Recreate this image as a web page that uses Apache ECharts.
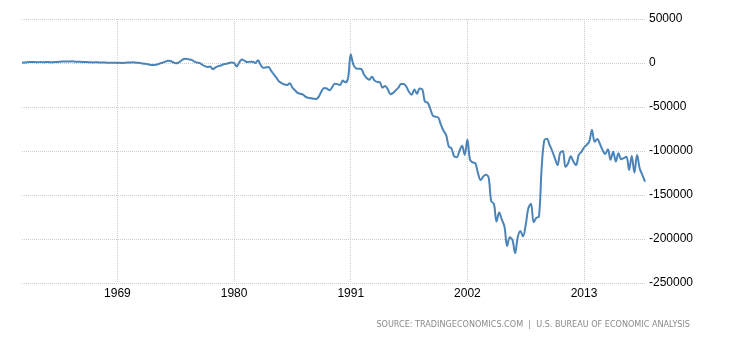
<!DOCTYPE html>
<html>
<head>
<meta charset="utf-8">
<script src="https://cdn.jsdelivr.net/npm/echarts@6/dist/echarts.min.js"></script>
<style>html,body{margin:0;padding:0;background:#fff;}#c{width:730px;height:340px;}</style>
</head>
<body>
<div id="c"></div>
<script>
var startYear = 1960;
var endYear = 2018;
var labelYears = [1969, 1980, 1991, 2002, 2013];
var yTicks = [50000, 0, -50000, -100000, -150000, -200000, -250000];
var sourceText = 'SOURCE: TRADINGECONOMICS.COM  |  U.S. BUREAU OF ECONOMIC ANALYSIS';

// quarterly values, one row per year (Q1..Q4)
var values = [
  300, 500, 800, 1200,          // 1960
  1200, 1000, 900, 1100,        // 1961
  900, 1000, 1100, 800,         // 1962
  900, 1200, 1300, 1600,        // 1963
  1700, 1600, 1800, 1900,       // 1964
  1500, 1400, 1300, 1200,       // 1965
  1100, 900, 800, 700,          // 1966
  800, 700, 600, 500,           // 1967
  400, 300, 200, 300,           // 1968
  100, 200, 0, 300,             // 1969
  500, 600, 800, 400,           // 1970
  300, -300, -800, -1200,       // 1971
  -1800, -2200, -2200, -1800,   // 1972
  -500, 300, 1500, 2500,        // 1973
  2200, 800, -200, 300,         // 1974
  2500, 4500, 4800, 4000,       // 1975
  3500, 1500, 500, 0,           // 1976
  -2000, -3500, -4500, -4000,   // 1977
  -7000, -5000, -3500, -3000,   // 1978
  -1500, -1000, 0, 500,         // 1979
  0, -4000, 1000, 4000,         // 1980
  2500, 1000, 1500, 1500,       // 1981
  0, 3000, -2000, -5500,        // 1982
  -5000, -4500, -9000, -13000,  // 1983
  -17000, -21000, -23000, -24500, // 1984
  -25000, -23000, -28000, -31000, // 1985
  -34000, -35000, -36000, -38500, // 1986
  -39500, -40000, -40500, -41000, // 1987
  -38000, -32000, -28500, -29000, // 1988
  -31000, -27500, -23500, -24000, // 1989
  -25000, -20000, -22000, -17000, // 1990
  10000, -2000, -6000, -6500,     // 1991
  -7000, -13000, -17000, -19000,  // 1992
  -15500, -20000, -21500, -22000, // 1993
  -28000, -26000, -30000, -35500, // 1994
  -34000, -31000, -28000, -24000, // 1995
  -24000, -27000, -33000, -36000, // 1996
  -30000, -35000, -29000, -30000, // 1997
  -44000, -45000, -52000, -60000, // 1998
  -61000, -62000, -70000, -77000, // 1999
  -82000, -95000, -97000, -106000, // 2000
  -107000, -100000, -94000, -104500, // 2001
  -87000, -110000, -113000, -114000, // 2002
  -125000, -133000, -129000, -127000, // 2003
  -130000, -157000, -160000, -180000, // 2004
  -170000, -178000, -186000, -208000, // 2005
  -198000, -201000, -216000, -198000, // 2006
  -191000, -197000, -184000, -165000, // 2007
  -160000, -181000, -176000, -174500, // 2008
  -120000, -88000, -86000, -93000,    // 2009
  -100000, -108000, -116000, -102000, // 2010
  -100000, -118000, -114000, -106000, // 2011
  -112000, -116000, -104500, -101000, // 2012
  -96000, -93000, -89000, -76000,     // 2013
  -89400, -86300, -92000, -99000,     // 2014
  -103400, -98000, -110000, -100800,  // 2015
  -112000, -102600, -109400, -108000, // 2016
  -106400, -121500, -105600, -124600, // 2017
  -104500, -120000, -127000, -134800  // 2018
];

var categories = [];
for (var y = startYear; y <= endYear; y++) {
  for (var q = 1; q <= 4; q++) categories.push(y + ' Q' + q);
}
function isLabel(idx) {
  var c = categories[idx];
  if (!c || c.slice(-2) !== 'Q1') return false;
  return labelYears.indexOf(parseInt(c, 10)) >= 0;
}

var chart = echarts.init(document.getElementById('c'), null, {renderer: 'canvas'});
chart.setOption({
  animation: false,
  backgroundColor: '#ffffff',
  grid: {left: 22, right: 85, top: 19, bottom: 57, containLabel: false},
  xAxis: {
    type: 'category',
    data: categories,
    boundaryGap: false,
    axisLine: {show: false},
    axisTick: {show: true, interval: function (i) { return isLabel(i); }, length: 3,
      lineStyle: {color: '#c8c8c8', type: 'dotted'}},
    splitLine: {show: true, interval: function (i) { return isLabel(i); },
      lineStyle: {color: '#cccccc', type: 'dotted', width: 1}},
    axisLabel: {
      interval: function (i) { return isLabel(i); },
      formatter: function (v) { return v.slice(0, 4); },
      color: '#000', fontFamily: 'Liberation Sans, Arial, sans-serif', fontSize: 12, margin: 5
    }
  },
  yAxis: {
    type: 'value',
    position: 'right',
    min: yTicks[yTicks.length - 1],
    max: yTicks[0],
    interval: 50000,
    axisLine: {show: false},
    axisTick: {show: false},
    splitLine: {show: true, lineStyle: {color: '#cccccc', type: 'dotted', width: 1}},
    axisLabel: {
      formatter: function (v) { return String(v); },
      color: '#000', fontFamily: 'Liberation Sans, Arial, sans-serif', fontSize: 12, margin: 4
    }
  },
  series: [{
    type: 'line',
    data: values,
    smooth: 0.35,
    showSymbol: false,
    lineStyle: {color: '#4a84b8', width: 2},
    itemStyle: {color: '#4a84b8'}
  }],
  graphic: [{
    type: 'text',
    right: 40,
    top: 320,
    style: {text: sourceText, fill: '#8a8a8a', font: '9px "DejaVu Sans Condensed", "Liberation Sans Narrow", Arial, sans-serif'}
  }]
});
</script>
</body>
</html>
